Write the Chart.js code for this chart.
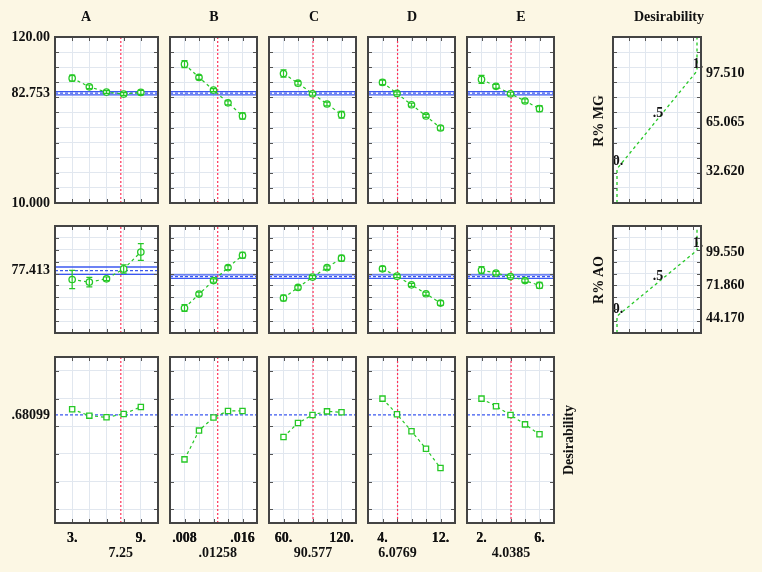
<!DOCTYPE html>
<html>
<head>
<meta charset="utf-8">
<title>Desirability profiles</title>
<script src="https://cdn.jsdelivr.net/npm/chart.js@4.4.1/dist/chart.umd.min.js"></script>
<style>
  html, body { margin: 0; padding: 0; }
  body {
    width: 762px; height: 572px; position: relative; overflow: hidden;
    background: #fcf7e4;
    font-family: "Liberation Serif", "Times New Roman", serif;
    font-weight: bold; color: #111;
  }
  canvas { position: absolute; }
  .lbl { position: absolute; font-size: 14px; white-space: nowrap; transform: translate(-50%, -50%); }
  .rot { transform: translate(-50%, -50%) rotate(-90deg); }
</style>
</head>
<body>
<script>
// ---------- factors ----------
const factors = ["A", "B", "C", "D", "E"];
const levelsA = [3, 4.5, 6, 7.5, 9];
const levelsB = [0.008, 0.010, 0.012, 0.014, 0.016];
const levelsC = [60, 75, 90, 105, 120];
const levelsD = [4, 6, 8, 10, 12];
const levelsE = [2, 3, 4, 5, 6];
const xRanges = [[1.5, 10.5], [0.006, 0.018], [45, 135], [2, 14], [1, 7]];
const currentX = [7.25, 0.01258, 90.577, 6.0769, 4.0385];
const xEndLabels = [["3.", "9."], [".008", ".016"], ["60.", "120."], ["4.", "12."], ["2.", "6."]];
const currentXLabels = ["7.25", ".01258", "90.577", "6.0769", "4.0385"];

// ---------- R% MG ----------
const mgA = [92.7, 87.0, 83.5, 82.2, 83.3];
const mgB = [102.0, 93.2, 84.8, 76.4, 67.7];
const mgC = [95.8, 89.4, 82.4, 75.6, 68.5];
const mgD = [89.9, 82.6, 75.1, 67.7, 59.7];
const mgE = [91.9, 87.3, 82.4, 77.6, 72.5];
const mgErrA = [2.0, 1.2, 0.9, 0.9, 1.3];
const mgErrB = [2.3, 1.3, 1.0, 1.3, 2.1];
const mgErrC = [2.4, 1.2, 1.0, 1.2, 2.2];
const mgErrD = [1.5, 1.0, 1.0, 1.0, 1.5];
const mgErrE = [2.7, 1.3, 1.0, 1.3, 2.0];
const mgPredicted = 82.753;
const mgBand = [1.1, 1.1, 1.1, 1.1, 1.1];
const mgAxis = [10, 120];
const mgTickVals = [10, 82.753, 120];
const mgTickText = ["10.000", "82.753", "120.00"];

// ---------- R% AO ----------
const aoA = [70.0, 67.8, 70.6, 78.9, 93.1];
const aoB = [51.0, 62.7, 74.1, 85.0, 95.4];
const aoC = [59.4, 68.3, 77.0, 85.0, 92.9];
const aoD = [84.0, 77.8, 70.5, 63.0, 55.2];
const aoE = [82.9, 80.4, 77.5, 74.1, 70.0];
const aoErrA = [7.6, 4.0, 1.5, 3.5, 7.0];
const aoErrB = [2.8, 1.6, 1.4, 1.6, 2.5];
const aoErrC = [2.5, 1.5, 1.2, 1.5, 2.5];
const aoErrD = [2.0, 1.3, 1.2, 1.3, 2.0];
const aoErrE = [3.0, 1.5, 1.2, 1.5, 2.5];
const aoPredicted = 77.413;
const aoBand = [3.1, 1.4, 1.4, 1.4, 1.4];
const aoAxes = [[25, 115], [30, 120], [30, 120], [30, 120], [30, 120]];
const aoTickVals = [77.413];
const aoTickText = ["77.413"];

// ---------- overall desirability ----------
const desA = [0.722, 0.676, 0.664, 0.688, 0.739];
const desB = [0.360, 0.568, 0.662, 0.710, 0.710];
const desC = [0.522, 0.623, 0.681, 0.707, 0.700];
const desD = [0.799, 0.686, 0.563, 0.437, 0.297];
const desE = [0.799, 0.744, 0.681, 0.613, 0.541];
const desCurrent = 0.68099;
const desAxis = [-0.1, 1.1];
const desTickVals = [0.68099];
const desTickText = [".68099"];

// ---------- desirability functions ----------
const dLevels = [0, 0.5, 1];
const dTexts = ["0.", ".5", "1."];
const mgLimits = [32.62, 65.065, 97.51];
const mgLimitText = ["32.620", "65.065", "97.510"];
const aoLimits = [44.17, 71.86, 99.55];
const aoLimitText = ["44.170", "71.860", "99.550"];

// ---------- look ----------
const FONT = '"Liberation Serif", "Times New Roman", serif';
const GREEN = "#26c826";
const BLUE = "#3b58f0";
const RED = "#ff3358";
const GRID = "#e1e7ef";
const FRAME = "#444444";
const TEXT = "#111111";
const M = 60;

// panel boxes
const colX = [55, 170, 269, 368, 467];
const colW = [103, 87, 87, 87, 87];
const rowY = [37, 226, 357];
const rowH = [166, 107, 166];
const desX = 613, desW = 88;

function seq(a, b, step) {
    const out = [];
    for (let v = a; v <= b + step * 1e-6; v += step) out.push(+v.toFixed(6));
    return out;
}

function near(a, b) { return Math.abs(a - b) < 1e-9; }

// one axis: grid lines at "grid", text only at "labelVals"
function axis(pos, min, max, grid, labelVals, labelTexts, pad, offset) {
    return {
        type: "linear", position: pos, min: min, max: max,
        border: { display: false },
        grid: {
            drawTicks: false, lineWidth: 1,
            color: c => grid.some(g => near(g, c.tick.value)) ? GRID : "rgba(0,0,0,0)"
        },
        ticks: {
            autoSkip: false, maxRotation: 0, minRotation: 0,
            padding: pad, labelOffset: offset || 0, color: TEXT,
            font: { family: FONT, size: 14, weight: "bold", lineHeight: 1.1 },
            callback: v => {
                const i = labelVals.findIndex(l => near(l, v));
                return i < 0 ? "" : labelTexts[i];
            }
        },
        afterBuildTicks: s => {
            s.ticks = grid.concat(labelVals).sort((a, b) => a - b).map(v => ({ value: v }));
        },
        // the axis box takes the whole margin so its labels are not clipped
        afterFit: s => {
            if (s.isHorizontal()) s.height = M; else s.width = M;
        }
    };
}

function profileSet(xs, ys, errs, style) {
    return {
        data: xs.map((x, i) => ({ x: x, y: ys[i] })),
        errors: errs,
        showLine: true,
        borderColor: GREEN, borderWidth: 1.2, borderDash: [3, 3],
        pointStyle: style, pointRadius: style === "rect" ? 3.7 : 3.2,
        pointBorderColor: GREEN, pointBackgroundColor: "#ffffff", pointBorderWidth: 1.3
    };
}

function lineSet(pts, color, width, dash) {
    return { data: pts, showLine: true, borderColor: color, borderWidth: width, borderDash: dash, pointRadius: 0 };
}

function bandSets(x0, x1, p, h) {
    const sets = [lineSet([{ x: x0, y: p }, { x: x1, y: p }], BLUE, 1.3, [3, 2])];
    if (h > 0) {
        sets.push(lineSet([{ x: x0, y: p - h }, { x: x1, y: p - h }], BLUE, 1.3, []));
        sets.push(lineSet([{ x: x0, y: p + h }, { x: x1, y: p + h }], BLUE, 1.3, []));
    }
    return sets;
}

const errorBars = {
    id: "errorBars",
    afterDatasetsDraw(chart) {
        const ctx = chart.ctx, xs = chart.scales.x, ys = chart.scales.y;
        chart.data.datasets.forEach(ds => {
            if (!ds.errors) return;
            ctx.save();
            ctx.strokeStyle = GREEN;
            ctx.lineWidth = 1.2;
            ds.data.forEach((p, i) => {
                const px = xs.getPixelForValue(p.x);
                const t = ys.getPixelForValue(p.y + ds.errors[i]);
                const b = ys.getPixelForValue(p.y - ds.errors[i]);
                ctx.beginPath();
                ctx.moveTo(px, t); ctx.lineTo(px, b);
                ctx.moveTo(px - 3, t); ctx.lineTo(px + 3, t);
                ctx.moveTo(px - 3, b); ctx.lineTo(px + 3, b);
                ctx.stroke();
            });
            ctx.restore();
        });
    }
};

const desMarks = {
    id: "desMarks",
    afterDatasetsDraw(chart) {
        const ctx = chart.ctx, xs = chart.scales.x, ys = chart.scales.y;
        chart.data.datasets.forEach(ds => {
            if (!ds.marks) return;
            ctx.save();
            ctx.fillStyle = TEXT;
            ctx.font = "bold 14px " + FONT;
            ctx.textAlign = "center";
            ctx.textBaseline = "middle";
            ds.marks.forEach(m => {
                ctx.fillText(m.text, xs.getPixelForValue(m.x) + 1, ys.getPixelForValue(m.y) - 7);
            });
            ctx.restore();
        });
    }
};

function panel(box, xs, ys, xGrid, yGrid, datasets) {
    const cv = document.createElement("canvas");
    cv.width = box.w + 2 * M;
    cv.height = box.h + 2 * M;
    cv.style.left = (box.x - M) + "px";
    cv.style.top = (box.y - M) + "px";
    cv.style.width = cv.width + "px";
    cv.style.height = cv.height + "px";
    document.body.appendChild(cv);

    const frame = {
        id: "frame",
        beforeDraw(chart) {
            const a = chart.chartArea, ctx = chart.ctx;
            ctx.save();
            ctx.fillStyle = "#ffffff";
            ctx.fillRect(a.left, a.top, a.right - a.left, a.bottom - a.top);
            ctx.restore();
        },
        afterDraw(chart) {
            const a = chart.chartArea, ctx = chart.ctx;
            ctx.save();
            ctx.strokeStyle = "#555";
            ctx.lineWidth = 1;
            ctx.beginPath();
            xGrid.forEach(v => {
                const px = Math.round(chart.scales.x.getPixelForValue(v)) + 0.5;
                ctx.moveTo(px, a.top); ctx.lineTo(px, a.top + 4);
                ctx.moveTo(px, a.bottom); ctx.lineTo(px, a.bottom - 4);
            });
            yGrid.forEach(v => {
                const py = Math.round(chart.scales.y.getPixelForValue(v)) + 0.5;
                ctx.moveTo(a.left, py); ctx.lineTo(a.left + 4, py);
                ctx.moveTo(a.right, py); ctx.lineTo(a.right - 4, py);
            });
            ctx.stroke();
            ctx.strokeStyle = FRAME;
            ctx.lineWidth = 2;
            ctx.strokeRect(a.left, a.top, a.right - a.left, a.bottom - a.top);
            ctx.restore();
        }
    };

    const onLeft = ys.position === "left";
    return new Chart(cv, {
        type: "scatter",
        data: { datasets: datasets },
        options: {
            responsive: false, animation: false, events: [],
            layout: { padding: { top: M, bottom: 0, left: onLeft ? 0 : M, right: onLeft ? M : 0 } },
            scales: { x: xs, y: ys },
            plugins: { legend: { display: false }, tooltip: { enabled: false } }
        },
        plugins: [frame, errorBars, desMarks]
    });
}

// ---------- build the grid of profiles ----------
const levels = [levelsA, levelsB, levelsC, levelsD, levelsE];
const mg = [mgA, mgB, mgC, mgD, mgE];
const mgErr = [mgErrA, mgErrB, mgErrC, mgErrD, mgErrE];
const ao = [aoA, aoB, aoC, aoD, aoE];
const aoErr = [aoErrA, aoErrB, aoErrC, aoErrD, aoErrE];
const des = [desA, desB, desC, desD, desE];

const mgGrid = seq(20, 110, 10);
const desGrid = seq(0, 1, 0.2);

factors.forEach((f, i) => {
    const [x0, x1] = xRanges[i];
    const cur = currentX[i];
    const xGrid = levels[i];

    // row 1: R% MG
    panel({ x: colX[i], y: rowY[0], w: colW[i], h: rowH[0] },
        axis("bottom", x0, x1, xGrid, [], [], 6),
        axis("left", mgAxis[0], mgAxis[1], mgGrid, i === 0 ? mgTickVals : [], mgTickText, 5),
        xGrid, mgGrid,
        [profileSet(levels[i], mg[i], mgErr[i], "circle"),
         lineSet([{ x: cur, y: mgAxis[0] }, { x: cur, y: mgAxis[1] }], RED, 1.2, [2, 2])]
            .concat(bandSets(x0, x1, mgPredicted, mgBand[i])));

    // row 2: R% AO
    const [a0, a1] = aoAxes[i];
    const aoGrid = seq(a0 + 10, a1 - 10, 10);
    panel({ x: colX[i], y: rowY[1], w: colW[i], h: rowH[1] },
        axis("bottom", x0, x1, xGrid, [], [], 6),
        axis("left", a0, a1, aoGrid, i === 0 ? aoTickVals : [], aoTickText, 5),
        xGrid, aoGrid,
        [profileSet(levels[i], ao[i], aoErr[i], "circle"),
         lineSet([{ x: cur, y: a0 }, { x: cur, y: a1 }], RED, 1.2, [2, 2])]
            .concat(bandSets(x0, x1, aoPredicted, aoBand[i])));

    // row 3: desirability
    const lv = levels[i];
    panel({ x: colX[i], y: rowY[2], w: colW[i], h: rowH[2] },
        axis("bottom", x0, x1, xGrid, [lv[0], lv[lv.length - 1], cur],
             [xEndLabels[i][0], xEndLabels[i][1], ["", currentXLabels[i]]], 7.5),
        axis("left", desAxis[0], desAxis[1], desGrid, i === 0 ? desTickVals : [], desTickText, 5),
        xGrid, desGrid,
        [profileSet(levels[i], des[i], null, "rect"),
         lineSet([{ x: cur, y: desAxis[0] }, { x: cur, y: desAxis[1] }], RED, 1.2, [2, 2])]
            .concat(bandSets(x0, x1, desCurrent, 0)));
});

// ---------- desirability functions (right column) ----------
const dGrid = seq(0.15, 0.95, 0.2);
function desPanel(top, h, yMin, yMax, yGrid, limits, limitText) {
    const pts = [{ x: dLevels[0], y: yMin }]
        .concat(dLevels.map((d, k) => ({ x: d, y: limits[k] })))
        .concat([{ x: dLevels[dLevels.length - 1], y: yMax }]);
    const fn = lineSet(pts, GREEN, 1.3, [3, 3]);
    fn.marks = dLevels.map((d, k) => ({ x: d, y: limits[k], text: dTexts[k] }));
    panel({ x: desX, y: top, w: desW, h: h },
        axis("bottom", -0.05, 1.05, dGrid, [], [], 6),
        axis("right", yMin, yMax, yGrid, limits, limitText, 5, 2.5),
        dGrid, yGrid, [fn]);
}
desPanel(rowY[0], rowH[0], mgAxis[0], mgAxis[1], mgGrid, mgLimits, mgLimitText);
desPanel(rowY[1], rowH[1], 30, 120, seq(40, 110, 10), aoLimits, aoLimitText);

// ---------- titles ----------
const titleX = [86, 214, 314, 412, 521];
function label(text, x, y, rotate) {
    const d = document.createElement("div");
    d.className = rotate ? "lbl rot" : "lbl";
    d.textContent = text;
    d.style.left = x + "px";
    d.style.top = y + "px";
    document.body.appendChild(d);
}
factors.forEach((f, i) => label(f, titleX[i], 17, false));
label("Desirability", 669, 17, false);
label("R% MG", 598.5, 121, true);
label("R% AO", 598.5, 280, true);
label("Desirability", 569, 440, true);
</script>
</body>
</html>
